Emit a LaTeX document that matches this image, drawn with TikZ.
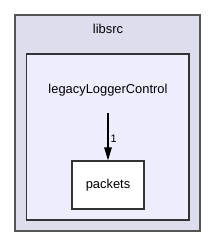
\documentclass[tikz,border=0pt]{standalone}
\usepackage{fontspec}
\setmainfont{Liberation Sans}
\usetikzlibrary{arrows.meta}
\definecolor{outerfill}{HTML}{DDDDEE}
\definecolor{innerfill}{HTML}{EEEEFF}
\definecolor{outerline}{HTML}{555555}
\definecolor{innerline}{HTML}{333333}
\tikzset{
  lbl/.style={font=\fontsize{12.9}{15}\selectfont, inner sep=0pt},
  dirbox/.style={draw=innerline, line width=1.3pt, fill=white, minimum width=72pt, minimum height=48pt, inner sep=0pt, font=\fontsize{12.9}{15}\selectfont},
  dep/.style={draw=black, line width=1.3pt, -{Triangle[length=13pt,width=7.5pt]}}
}
\begin{document}
\begin{tikzpicture}[x=1pt,y=-1pt]
\useasboundingbox (0,0) rectangle (216,247);
\filldraw[fill=outerfill, draw=outerline, line width=2pt] (15.3,15.3) rectangle (200,231);
\filldraw[fill=innerfill, draw=innerline, line width=1.3pt] (26.7,54) rectangle (189,220);
\node[lbl] (libsrc) at (108,29) {libsrc};
\node[lbl] (legacy) at (108,90) {legacyLoggerControl};
\node[dirbox] (packets) at (108,185) {packets};
\coordinate (src) at (108,113);
\draw[dep] (src) -- (packets.north) node[lbl, pos=0.55, right=2pt, font=\fontsize{11}{13}\selectfont] (one) {1};
\end{tikzpicture}
\end{document}
